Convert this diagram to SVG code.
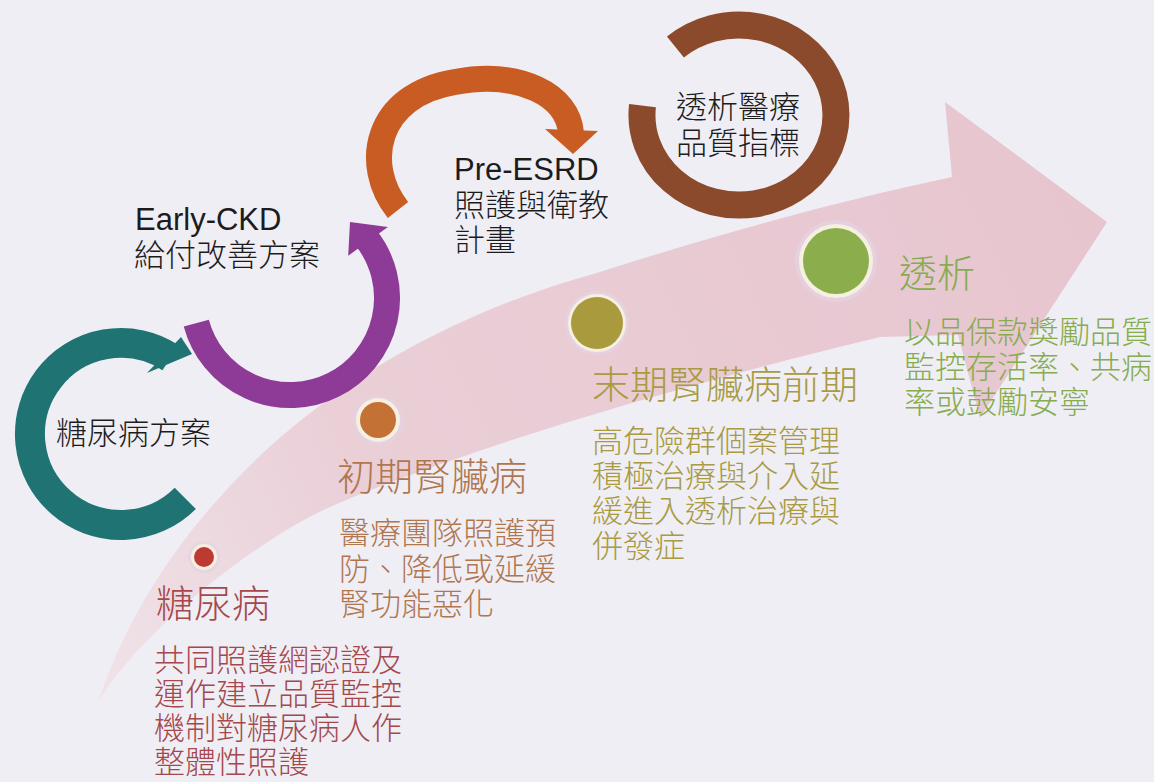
<svg xmlns="http://www.w3.org/2000/svg" width="1154" height="782" viewBox="0 0 1154 782">
<defs>
<linearGradient id="pinkGrad" gradientUnits="userSpaceOnUse" x1="98" y1="703" x2="1107" y2="222">
<stop offset="0" stop-color="#f0e3e9"/>
<stop offset="0.3" stop-color="#eacfd7"/>
<stop offset="1" stop-color="#e7c5cf"/>
</linearGradient>
<style>
.cjk{font-family:"Noto Sans CJK TC","Noto Sans CJK SC",sans-serif;font-weight:300;}
.lat{font-family:"Liberation Sans",Arial,sans-serif;}
.blk{fill:#1c1c1c;font-size:31px;}
.t1{fill:#a5484d;}
.t2{fill:#b07650;}
.t3{fill:#a99a43;}
.t4{fill:#86ac4f;}
.big{font-size:38px;}
.body{font-size:31px;}
.ring{fill:none;stroke-linecap:butt;}
.halo{fill:#e4d3e3;opacity:0.7;}
.dotring{fill:#f6f0e2;}
</style>
</defs>
<rect x="0" y="0" width="1154" height="782" fill="#efeef4"/>

<g id="big-arrow">
<path d="M98,703 C140,570 280,360 600,272 C700,240 820,205 952,177 L945,102 L1107,222 L980,418 L958,335 L880,337 C700,380 460,450 330,507 C260,538 140,630 98,703 Z" fill="url(#pinkGrad)"/>
</g>

<g id="connectors">
<g id="teal-arrow">
<path class="ring" d="M185.3,498.3 A91,91 0 1 1 170.6,357.7" stroke="#1f7473" stroke-width="30"/>
<polygon points="181,337 192,354 147,373" fill="#1f7473"/>
</g>
<g id="purple-arrow">
<path class="ring" d="M196.3,323.1 A97,97 0 1 0 366.4,238.3" stroke="#8d3b96" stroke-width="26"/>
<polygon points="387.9,226.9 348.2,255.7 350,222" fill="#8d3b96"/>
</g>
<g id="orange-arrow">
<path class="ring" d="M398,210 C362,165 375,95 455,82 C520,70 568,95 571,133" stroke="#c95c22" stroke-width="26"/>
<polygon points="545,129 598,131 573,154" fill="#c95c22"/>
</g>
<g id="brown-ring">
<path class="ring" d="M675.4,47.1 A97,90 0 1 1 642.5,105.6" stroke="#8b4a2b" stroke-width="27"/>
</g>
</g>

<g id="node-diabetes-program">
<text class="cjk blk" x="56" y="444">糖尿病方案</text>
</g>
<g id="node-early-ckd">
<text class="lat blk" x="135" y="230" font-size="29">Early-CKD</text>
<text class="cjk blk" x="134" y="266">給付改善方案</text>
</g>
<g id="node-pre-esrd">
<text class="lat blk" x="454" y="180" font-size="29">Pre-ESRD</text>
<text class="cjk blk" x="454" y="216">照護與衛教</text>
<text class="cjk blk" x="454" y="251">計畫</text>
</g>
<g id="node-dialysis-quality">
<text class="cjk blk" x="676" y="118">透析醫療</text>
<text class="cjk blk" x="676" y="154">品質指標</text>
</g>

<g id="node-stage1">
<circle class="halo" cx="204" cy="557" r="16"/>
<circle class="dotring" cx="204" cy="557" r="13"/>
<circle cx="204" cy="557" r="10" fill="#bd3a33"/>
<text class="cjk t1 big" x="156" y="617">糖尿病</text>
<text class="cjk t1 body" x="154" y="671">共同照護網認證及</text>
<text class="cjk t1 body" x="154" y="705">運作建立品質監控</text>
<text class="cjk t1 body" x="154" y="739">機制對糖尿病人作</text>
<text class="cjk t1 body" x="154" y="773">整體性照護</text>
</g>

<g id="node-stage2">
<circle class="halo" cx="378" cy="420" r="25"/>
<circle class="dotring" cx="378" cy="420" r="22"/>
<circle cx="378" cy="420" r="18" fill="#c47135"/>
<text class="cjk t2 big" x="337" y="490">初期腎臟病</text>
<text class="cjk t2 body" x="339" y="544">醫療團隊照護預</text>
<text class="cjk t2 body" x="339" y="580">防、降低或延緩</text>
<text class="cjk t2 body" x="339" y="615">腎功能惡化</text>
</g>

<g id="node-stage3">
<circle class="halo" cx="597" cy="323" r="32"/>
<circle class="dotring" cx="597" cy="323" r="29"/>
<circle cx="597" cy="323" r="26" fill="#a99a3d"/>
<text class="cjk t3 big" x="592" y="398">末期腎臟病前期</text>
<text class="cjk t3 body" x="592" y="452">高危險群個案管理</text>
<text class="cjk t3 body" x="592" y="487">積極治療與介入延</text>
<text class="cjk t3 body" x="592" y="522">緩進入透析治療與</text>
<text class="cjk t3 body" x="592" y="557">併發症</text>
</g>

<g id="node-stage4">
<circle class="halo" cx="836" cy="261" r="41"/>
<circle class="dotring" cx="836" cy="261" r="37"/>
<circle cx="836" cy="261" r="33" fill="#8bad4b"/>
<text class="cjk t4 big" x="899" y="287">透析</text>
<text class="cjk t4 body" x="904" y="343">以品保款獎勵品質</text>
<text class="cjk t4 body" x="904" y="378">監控存活率、共病</text>
<text class="cjk t4 body" x="904" y="413">率或鼓勵安寧</text>
</g>
</svg>
